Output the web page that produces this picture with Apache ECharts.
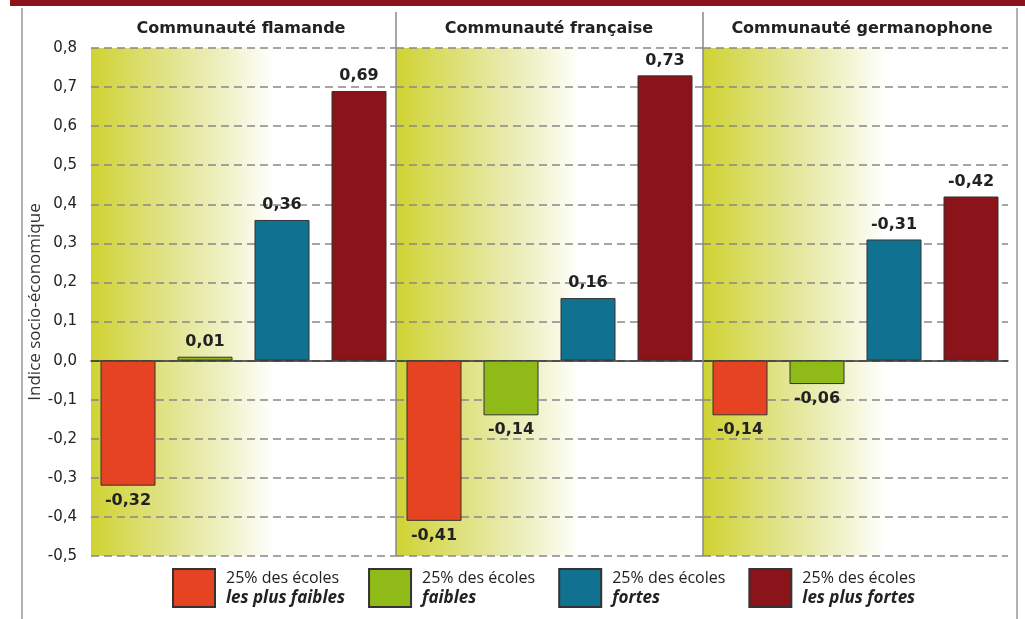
<!DOCTYPE html>
<html>
<head>
<meta charset="utf-8">
<script src="https://cdn.jsdelivr.net/npm/echarts@6/dist/echarts.min.js"></script>
<style>html,body{margin:0;padding:0;background:#fff}#c{width:1025px;height:619px}</style>
</head>
<body>
<div id="c"></div>
<script>
// ---- data ----
var communities = ['Communauté flamande', 'Communauté française', 'Communauté germanophone'];
var groups = ['les plus faibles', 'faibles', 'fortes', 'les plus fortes'];
var groupPrefix = '25% des écoles';
var valuesFlamande = [-0.32, 0.01, 0.36, 0.69];
var valuesFrancaise = [-0.41, -0.14, 0.16, 0.73];
var valuesGermanophone = [-0.14, -0.06, 0.31, 0.42];
var labelsFlamande = ['-0,32', '0,01', '0,36', '0,69'];
var labelsFrancaise = ['-0,41', '-0,14', '0,16', '0,73'];
var labelsGermanophone = ['-0,14', '-0,06', '-0,31', '-0,42'];
var yTicks = { min: -0.5, max: 0.8, interval: 0.1 };

var values = [valuesFlamande, valuesFrancaise, valuesGermanophone];
var labels = [labelsFlamande, labelsFrancaise, labelsGermanophone];
var colors = ['#e64322', '#8fba17', '#107191', '#8b141b'];
var BOLD = 'DejaVu Sans';
var REG = 'Open Sans';

var panelX = [[91, 396], [396, 703], [703, 1008]];
var titleX = [236, 544, 857];
var W = 1025;

var grids = [], xAxes = [], yAxes = [], series = [], titles = [];
for (var g = 0; g < 3; g++) {
  var l = panelX[g][0], r = panelX[g][1];
  grids.push({
    left: l, width: r - l, top: 48, bottom: 63,
    show: true, borderWidth: 0,
    backgroundColor: {
      type: 'linear', x: 0, y: 0, x2: 1, y2: 0,
      colorStops: [
        { offset: 0, color: '#d0d332' },
        { offset: 0.25, color: '#e1e38a' },
        { offset: 0.45, color: '#eff2c8' },
        { offset: 0.6, color: '#ffffff' },
        { offset: 1, color: '#ffffff' }
      ]
    }
  });
  titles.push({
    text: communities[g], left: titleX[g], top: 16, textAlign: 'center',
    textStyle: { fontFamily: BOLD, fontSize: 16, fontWeight: 'bold', color: '#222' }
  });
  xAxes.push({
    type: 'category', gridIndex: g, data: [communities[g]],
    axisLine: { onZero: true, lineStyle: { color: '#333', width: 1.5 } },
    axisTick: { show: false }, axisLabel: { show: false }, splitLine: { show: false }
  });
  yAxes.push({
    type: 'value', gridIndex: g, min: yTicks.min, max: yTicks.max, interval: yTicks.interval,
    name: g === 0 ? 'Indice socio-économique' : '',
    nameLocation: 'middle', nameGap: 46,
    nameTextStyle: { fontFamily: REG, fontSize: 17, color: '#333' },
    axisLine: { show: false }, axisTick: { show: false },
    axisLabel: {
      show: g === 0, fontFamily: 'DejaVu Sans', fontSize: 15, color: '#222', margin: 14,
      formatter: function (v) { return (Math.round(v * 10) / 10).toFixed(1).replace('.', ','); }
    },
    splitLine: { show: true, lineStyle: { color: '#888', width: 1.5, type: [8, 5] } }
  });
  for (var k = 0; k < 4; k++) {
    (function (g, k) {
      var v = values[g][k];
      series.push({
        type: 'bar', name: groups[k], xAxisIndex: g, yAxisIndex: g,
        barWidth: 55, barGap: '40%',
        itemStyle: { color: colors[k], borderColor: '#333', borderWidth: 1 },
        label: {
          show: true, fontFamily: BOLD, fontSize: 16, fontWeight: 'bold', color: '#222', distance: 7,
          formatter: function () { return labels[g][k]; }
        },
        data: [{ value: v, label: { position: v < 0 ? 'bottom' : 'top' } }]
      });
    })(g, k);
  }
}

var chart = echarts.init(document.getElementById('c'));
chart.setOption({
  animation: false,
  title: titles,
  grid: grids,
  xAxis: xAxes,
  yAxis: yAxes,
  legend: {
    data: groups, left: 167, top: 563, itemWidth: 42, itemHeight: 38, itemGap: 23,
    icon: 'rect', selectedMode: false,
    formatter: function (n) { return '{a|' + groupPrefix + '}\n{b|' + n + '}'; },
    textStyle: {
      fontFamily: REG, padding: [0, 0, 0, 6],
      rich: {
        a: { fontFamily: REG, fontSize: 16, color: '#222', lineHeight: 20 },
        b: { fontFamily: REG, fontSize: 17, fontWeight: 'bold', fontStyle: 'italic', color: '#222', lineHeight: 20 }
      }
    }
  },
  graphic: [
    { type: 'rect', shape: { x: 10, y: 0, width: W - 10, height: 6 }, style: { fill: '#8b141b' }, silent: true },
    { type: 'line', shape: { x1: 22, y1: 8, x2: 22, y2: 619 }, style: { stroke: '#999', lineWidth: 1.5 }, silent: true },
    { type: 'line', shape: { x1: 1017, y1: 8, x2: 1017, y2: 619 }, style: { stroke: '#999', lineWidth: 1.5 }, silent: true },
    { type: 'line', shape: { x1: 396, y1: 12, x2: 396, y2: 556 }, style: { stroke: '#888', lineWidth: 1.5 }, silent: true, z: 10 },
    { type: 'line', shape: { x1: 703, y1: 12, x2: 703, y2: 556 }, style: { stroke: '#888', lineWidth: 1.5 }, silent: true, z: 10 }
  ],
  series: series
});
</script>
</body>
</html>
